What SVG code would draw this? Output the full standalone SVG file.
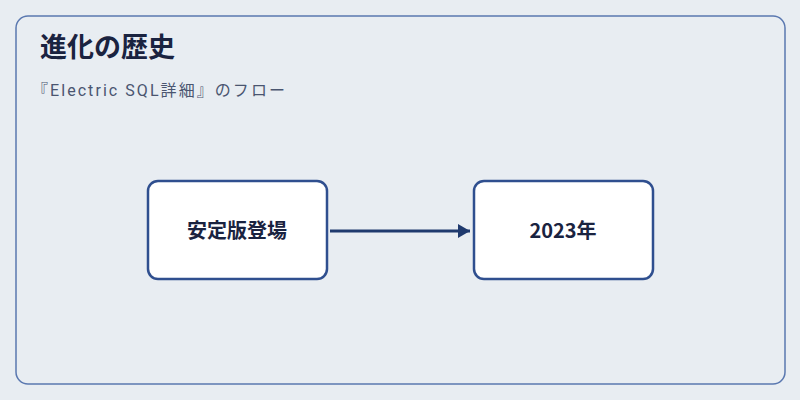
<svg xmlns="http://www.w3.org/2000/svg" width="800" height="400" viewBox="0 0 800 400">
<style>
.t{font-family:"Noto Sans CJK JP","Noto Sans",sans-serif;fill:#1a2340}
.n{fill:#fff;stroke:#2f4f8f;stroke-width:2.5}
.l{font-family:"Noto Sans CJK JP","Noto Sans",sans-serif;font-size:20px;font-weight:bold;fill:#1a2340;text-anchor:middle}
</style>
<defs><marker id="a" markerWidth="14" markerHeight="16" refX="12" refY="7" orient="auto" markerUnits="userSpaceOnUse"><path d="M0,0L12,7L0,14Z" fill="#1f3a6e"/></marker></defs>
<rect width="800" height="400" fill="#e8edf2"/>
<rect x="16" y="16" width="769" height="368" rx="12" fill="#e8edf2" stroke="#5a78b0" stroke-width="1.5"/>
<text class="t" x="40" y="57" font-size="27" font-weight="bold">進化の歴史</text>
<text x="32" y="96" font-size="16" style="font-family:'Roboto','Noto Sans CJK JP',sans-serif;fill:#4a5570" textLength="253">『Electric SQL詳細』のフロー</text>
<g id="edges"><line x1="330" y1="231" x2="470" y2="231" stroke="#1f3a6e" stroke-width="3" marker-end="url(#a)"/></g>
<g id="n1"><rect class="n" x="148" y="181" width="179" height="98" rx="10"/><text class="l" x="237" y="238">安定版登場</text></g>
<g id="n2"><rect class="n" x="474" y="181" width="179" height="98" rx="10"/><text class="l" x="563" y="238">2023年</text></g>
</svg>
